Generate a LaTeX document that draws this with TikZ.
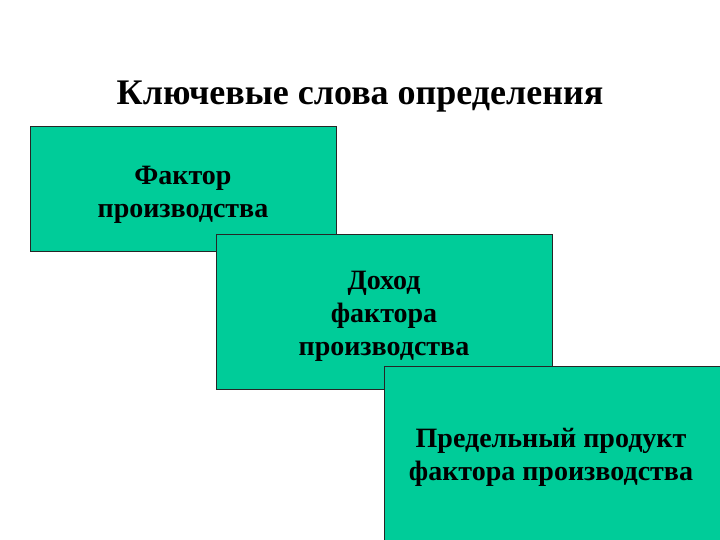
\documentclass[tikz,border=0pt]{standalone}
\usepackage{fontspec}
\setmainfont{Liberation Serif}
\usepackage{tikz}
\usetikzlibrary{positioning}
\definecolor{boxgreen}{HTML}{00CC99}
\tikzset{
  basic/.style  = {draw=black!85, thin, fill=boxgreen, rectangle, inner sep=0pt},
  label/.style  = {align=center, inner sep=0pt,
                   font=\fontsize{28}{33}\selectfont\bfseries},
  heading/.style = {font=\fontsize{36}{40}\selectfont\bfseries, inner sep=0pt}
}
\begin{document}
\begin{tikzpicture}[x=1pt,y=1pt]
  \useasboundingbox (0,0) rectangle (720,540);
  \fill[white] (0,0) rectangle (720,540);
  \node[heading] (title) at (360,443) {Ключевые слова определения};
  % three overlapping boxes
  \node[basic, minimum width=306pt, minimum height=125pt] (factor) at (183,351.5) {};
  \node[label] (factortext) at (183,345) {Фактор\\производства};
  \node[basic, minimum width=336pt, minimum height=155pt] (income) at (384,228.5) {};
  \node[label] (incometext) at (384,224) {Доход\\фактора\\производства};
  \node[basic, minimum width=350pt, minimum height=190pt, anchor=north west] (product) at (384,174) {};
  \node[label] (producttext) at (551,83) {Предельный продукт\\фактора производства};
\end{tikzpicture}
\end{document}
